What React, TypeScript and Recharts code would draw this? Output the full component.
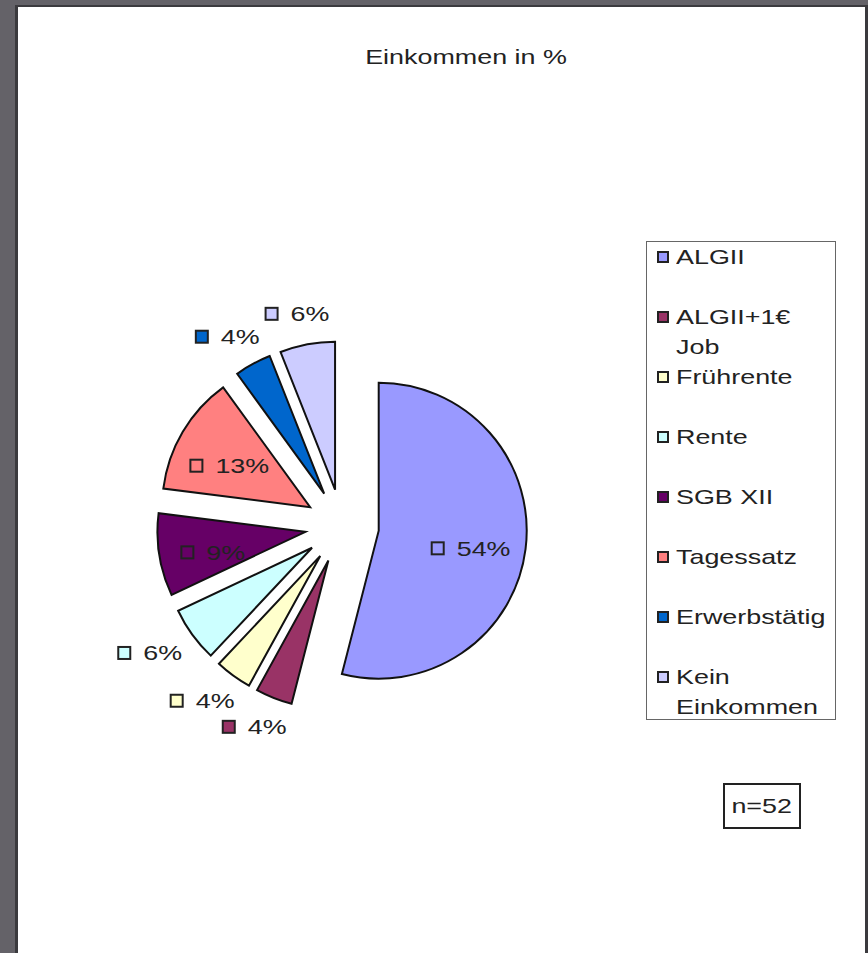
import { PieChart, Pie, Cell, Sector, Legend } from 'recharts';

// Einkommensarten, im Uhrzeigersinn ab 12 Uhr
const categories = ['ALGII', 'ALGII+1€ Job', 'Frührente', 'Rente', 'SGB XII', 'Tagessatz', 'Erwerbstätig', 'Kein Einkommen'];
const shares = [54, 4, 4, 6, 9, 13, 4, 6];
const sliceColors = ['#9999FF', '#993366', '#FFFFCC', '#CCFFFF', '#660066', '#FF8080', '#0066CC', '#CCCCFF'];
const chartTitle = 'Einkommen in %';
const sampleNote = 'n=52';

const data = categories.map((name, i) => ({ name, value: shares[i] }));

const FONT = '"Liberation Sans", Arial, sans-serif';
const FS = 21;
const WIDE = 1.28; // Schrift im Original horizontal gestreckt
const EXPLODE = 37;
const RAD = Math.PI / 180;

// zeichnet das herausgezogene Segment samt Beschriftung
function ExplodedSlice(props: any) {
  const { cx, cy, midAngle, innerRadius, outerRadius, startAngle, endAngle, index, value, percent } = props;
  const color = sliceColors[index];
  const cos = Math.cos(-midAngle * RAD);
  const sin = Math.sin(-midAngle * RAD);
  const sx = cx + EXPLODE * cos;
  const sy = cy + EXPLODE * sin;
  const text = `${value}%`;
  const w = 25 + (text.length - 1) * 15 + 24;
  const h = 22;

  // innen bei großen Segmenten, sonst außen neben dem Bogen
  let lx: number;
  let ly: number;
  if (percent >= 0.08) {
    lx = sx + outerRadius * 0.63 * cos;
    ly = sy + outerRadius * 0.63 * sin + 6;
  } else {
    const d = outerRadius + 20;
    lx = sx + d * cos + (cos * w) / 2;
    ly = sy + d * sin + (sin * h) / 2;
  }
  const left = lx - w / 2;
  return (
    <g>
      <Sector
        cx={sx}
        cy={sy}
        innerRadius={innerRadius}
        outerRadius={outerRadius}
        startAngle={startAngle}
        endAngle={endAngle}
        fill={color}
        stroke="#111"
        strokeWidth={2}
      />
      <rect x={left} y={ly - 6} width={12} height={12} fill={color} stroke="#222" strokeWidth={2} />
      <text
        transform={`translate(${left + 25},${ly}) scale(${WIDE},1)`}
        dominantBaseline="central"
        fill="#222"
        fontFamily={FONT}
        fontSize={FS}
      >
        {text}
      </text>
    </g>
  );
}

function LegendBox({ payload }: any) {
  const items = payload && payload.length ? payload : categories.map((c, i) => ({ value: c, color: sliceColors[i] }));
  return (
    <div
      style={{
        boxSizing: 'border-box',
        width: 190,
        height: 479,
        border: '1.5px solid #666',
        background: '#fff',
        fontFamily: FONT,
        fontSize: FS,
        color: '#222',
      }}
    >
      {items.map((p: any, i: number) => (
        <div key={i} style={{ position: 'relative', height: 60, lineHeight: '30px', paddingLeft: 29 }}>
          <span
            style={{
              position: 'absolute',
              left: 10,
              top: 9,
              width: 12,
              height: 12,
              boxSizing: 'border-box',
              border: '2px solid #222',
              background: p.color,
            }}
          />
          <div style={{ width: 123, transform: `scaleX(${WIDE})`, transformOrigin: 'left top' }}>{p.value}</div>
        </div>
      ))}
    </div>
  );
}

export default function App() {
  return (
    <div style={{ position: 'absolute', left: 0, top: 0, width: 868, height: 953, overflow: 'hidden', background: '#646268' }}>
      <div
        style={{
          position: 'absolute',
          left: 15,
          top: 5,
          width: 847,
          height: 960,
          background: '#fff',
          borderLeft: '3px solid #3b3a3e',
          borderTop: '2px solid #3b3a3e',
          borderRight: '3px solid #3b3a3e',
        }}
      />
      <div
        style={{
          position: 'absolute',
          left: 266,
          top: 46,
          width: 400,
          textAlign: 'center',
          fontFamily: FONT,
          fontSize: FS,
          lineHeight: '22px',
          color: '#222',
          transform: `scaleX(${WIDE})`,
        }}
      >
        {chartTitle}
      </div>
      <div style={{ position: 'absolute', left: 0, top: 0 }}>
        <PieChart width={868} height={953} margin={{ top: 0, right: 0, bottom: 0, left: 0 }}>
          <Pie
            data={data}
            dataKey="value"
            nameKey="name"
            cx={342}
            cy={526}
            outerRadius={148}
            startAngle={90}
            endAngle={-270}
            stroke="none"
            fillOpacity={0}
            label={ExplodedSlice}
            labelLine={false}
            isAnimationActive={false}
          >
            {data.map((d, i) => (
              <Cell key={d.name} fill={sliceColors[i]} />
            ))}
          </Pie>
          <Legend
            layout="vertical"
            align="right"
            verticalAlign="top"
            itemSorter={(item: any) => categories.indexOf(item.value)}
            wrapperStyle={{ left: 646, top: 241, width: 190 }}
            content={LegendBox}
          />
        </PieChart>
      </div>
      <div
        style={{
          position: 'absolute',
          left: 723,
          top: 783,
          width: 78,
          height: 46,
          boxSizing: 'border-box',
          border: '2px solid #222',
          background: '#fff',
          fontFamily: FONT,
          fontSize: FS,
          lineHeight: '42px',
          textAlign: 'center',
          color: '#222',
        }}
      >
        <span style={{ display: 'inline-block', transform: `scaleX(${WIDE})` }}>{sampleNote}</span>
      </div>
    </div>
  );
}
